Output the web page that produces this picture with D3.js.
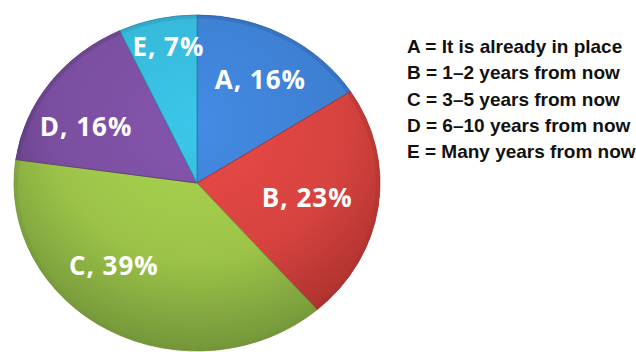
<!DOCTYPE html>
<html>
<head>
<meta charset="utf-8">
<script src="https://cdn.jsdelivr.net/npm/d3@7"></script>
<style>
  body { margin: 0; background: #fff; }
  svg { display: block; }
</style>
</head>
<body>
<div id="chart"></div>
<script>
// slice data, clockwise from 12 o'clock
const keys = ["A", "B", "C", "D", "E"];
const shares = [16, 23, 39, 16, 7];
const legendLines = [
  "A = It is already in place",
  "B = 1\u20132 years from now",
  "C = 3\u20135 years from now",
  "D = 6\u201310 years from now",
  "E = Many years from now"
];

const colors = ["#3d7fd1", "#d6433f", "#9cc348", "#7a4e9f", "#36b6d6"];
const darkColors = ["#2c5fa6", "#a8302d", "#74963a", "#5a3679", "#2a8fae"];

// label placement: radius fraction + nudge [dx, dy] from that point
const labelRadius = [0.68, 0.68, 0.62, 0.72, 0.9];
const labelNudge = [[4, -3], [-13, -1], [-29, -9], [-5, 16], [7, 12]];

const W = 636, H = 352;
const cx = 197, cy = 183, R = 183, squash = 0.918;

const svg = d3.select("#chart").append("svg")
    .attr("width", W)
    .attr("height", H);

const defs = svg.append("defs");
colors.forEach(function(c, i) {
  let g = defs.append("radialGradient")
      .attr("id", "grad" + i)
      .attr("gradientUnits", "userSpaceOnUse")
      .attr("cx", 0).attr("cy", -R * 0.35)
      .attr("r", R * 1.35);
  g.append("stop").attr("offset", "0%").attr("stop-color", d3.color(c).brighter(0.25));
  g.append("stop").attr("offset", "60%").attr("stop-color", c);
  g.append("stop").attr("offset", "100%").attr("stop-color", darkColors[i]);
});

const pie = d3.pie().sort(null).value(function(d) { return d; });
const arcs = pie(shares);

const arc = d3.arc().innerRadius(0).outerRadius(R);
const rim = d3.arc().innerRadius(R - 4).outerRadius(R);

const g = svg.append("g")
    .attr("transform", "translate(" + cx + "," + cy + ") scale(1," + squash + ")");

g.selectAll(".slice")
  .data(arcs)
  .enter().append("path")
    .attr("class", "slice")
    .attr("d", arc)
    .style("fill", function(d, i) { return "url(#grad" + i + ")"; })
    .style("stroke", function(d, i) { return d3.color(darkColors[i]).darker(0.2); })
    .style("stroke-width", 0.8);

// soft rim shading along the outer edge
g.selectAll(".rim")
  .data(arcs)
  .enter().append("path")
    .attr("class", "rim")
    .attr("d", rim)
    .style("fill", function(d, i) { return darkColors[i]; })
    .style("opacity", 0.35);

// labels (drawn unsquashed so text is not distorted)
svg.selectAll(".lbl")
  .data(arcs)
  .enter().append("text")
    .attr("class", "lbl")
    .attr("x", function(d, i) {
      let a = (d.startAngle + d.endAngle) / 2;
      return cx + Math.sin(a) * R * labelRadius[i] + labelNudge[i][0];
    })
    .attr("y", function(d, i) {
      let a = (d.startAngle + d.endAngle) / 2;
      return cy - Math.cos(a) * R * squash * labelRadius[i] + labelNudge[i][1];
    })
    .attr("dy", "0.35em")
    .attr("text-anchor", "middle")
    .style("font-family", "'Open Sans', Lato, sans-serif")
    .style("font-weight", "bold")
    .style("font-size", "26px")
    .style("letter-spacing", "1px")
    .style("fill", "#fff")
    .text(function(d, i) { return keys[i] + ", " + shares[i] + "%"; });

// legend
svg.selectAll(".legend")
  .data(legendLines)
  .enter().append("text")
    .attr("class", "legend")
    .attr("x", 407)
    .attr("y", function(d, i) { return 53 + i * 26.3; })
    .style("font-family", "'Liberation Sans', Arial, sans-serif")
    .style("font-weight", "bold")
    .style("font-size", "19px")
    .style("fill", "#111")
    .text(function(d) { return d; });
</script>
</body>
</html>
